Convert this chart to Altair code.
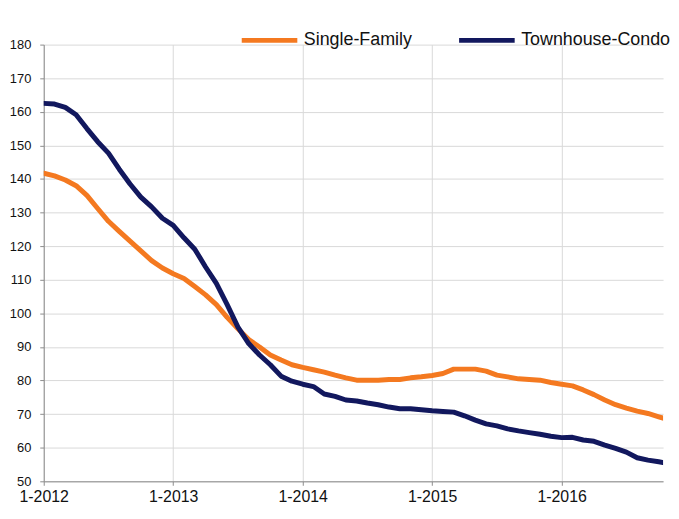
import altair as alt
import pandas as pd

# Monthly index (0 = Jan 2012)
months = list(range(59))
single_family = [141.7, 140.9, 139.7, 138.0, 135.1, 131.2, 127.4, 124.4, 121.5, 118.6,
                 115.7, 113.5, 111.8, 110.4, 108.0, 105.5, 102.6, 98.8, 95.4, 92.2,
                 90.0, 87.6, 86.1, 84.7, 83.9, 83.2, 82.5, 81.6, 80.8, 80.1,
                 80.1, 80.1, 80.3, 80.3, 80.8, 81.1, 81.5, 82.1, 83.4, 83.4,
                 83.4, 82.8, 81.6, 81.1, 80.5, 80.3, 80.1, 79.4, 78.9, 78.4,
                 77.2, 75.8, 74.2, 72.8, 71.8, 70.9, 70.2, 69.2, 68.2]
townhouse_condo = [162.5, 162.3, 161.3, 159.1, 155.0, 151.1, 147.7, 142.9, 138.5, 134.6,
                   131.7, 128.3, 126.2, 122.5, 119.1, 113.8, 108.9, 102.6, 95.9, 91.0,
                   87.6, 84.7, 81.3, 79.8, 78.9, 78.2, 76.0, 75.3, 74.2, 73.9,
                   73.3, 72.8, 72.1, 71.6, 71.6, 71.3, 71.0, 70.8, 70.6, 69.5,
                   68.2, 67.1, 66.5, 65.6, 65.0, 64.5, 64.0, 63.4, 63.0, 63.1,
                   62.3, 61.9, 60.8, 59.8, 58.7, 57.0, 56.3, 55.8, 55.3]
series_names = ["Single-Family", "Townhouse-Condo"]
series_colors = ["#F47920", "#12185E"]
x_ticks = [0, 12, 24, 36, 48]
y_ticks = list(range(50, 181, 10))

df = pd.concat([
    pd.DataFrame({"m": months, "v": single_family, "s": series_names[0]}),
    pd.DataFrame({"m": months, "v": townhouse_condo, "s": series_names[1]}),
])

FONT = "Liberation Sans"

chart = alt.Chart(df).mark_line(
    strokeWidth=5, strokeCap="round", strokeJoin="round", clip=True
).encode(
    x=alt.X("m:Q", scale=alt.Scale(domain=[0, 57.4], nice=False, zero=False),
            axis=alt.Axis(values=x_ticks, title=None,
                          labelExpr="'1-' + (2012 + datum.value / 12)",
                          labelFontSize=16, labelPadding=3, tickSize=4,
                          labelFlush=False)),
    y=alt.Y("v:Q", scale=alt.Scale(domain=[50, 180], nice=False, zero=False),
            axis=alt.Axis(values=y_ticks, title=None, labelFontSize=13,
                          labelPadding=9, tickSize=4)),
    color=alt.Color("s:N", scale=alt.Scale(domain=series_names, range=series_colors),
                    legend=alt.Legend(title=None, orient="none", direction="horizontal",
                                      legendX=197, legendY=-35, symbolType="stroke",
                                      symbolSize=3136, symbolStrokeWidth=5,
                                      labelFontSize=18, labelOffset=4,
                                      columnPadding=36, labelLimit=300, padding=0,
                                      labelColor="#111111")),
    order="m:Q",
).properties(
    width=624, height=440, padding={"left": 1, "top": 0, "right": 0, "bottom": 0}
).configure(
    font=FONT
).configure_view(
    stroke=None
).configure_axis(
    gridColor="#D9D9D9", gridWidth=1, domainColor="#8C8C8C", tickColor="#8C8C8C",
    labelColor="#111111", labelFont=FONT, domainWidth=1
).configure_legend(
    labelFont=FONT
)

chart.save("out.html", embed_options={"renderer": "svg", "actions": False})
